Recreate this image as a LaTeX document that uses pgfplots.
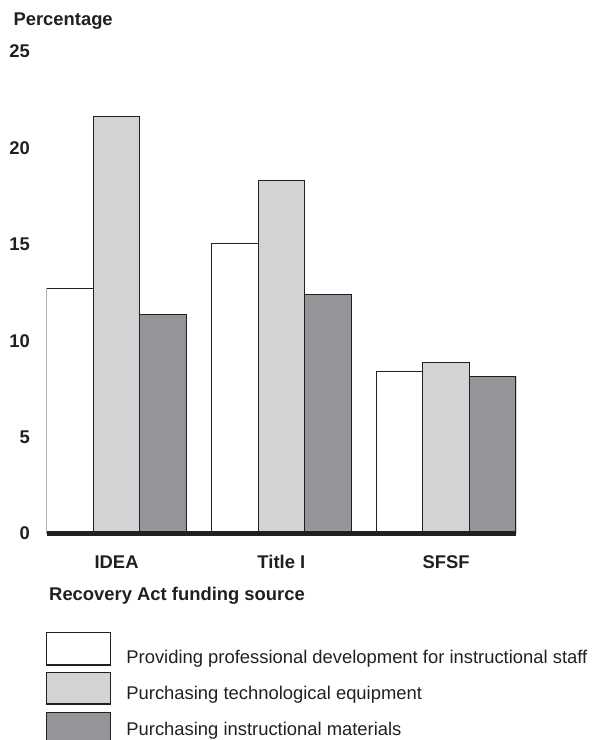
\documentclass[border=0pt]{standalone}
\usepackage{fontspec}
\setmainfont{Liberation Sans}
\usepackage{pgfplots}
\pgfplotsset{compat=1.18}

\definecolor{barlight}{HTML}{D1D3D4}
\definecolor{bardark}{HTML}{939598}
\definecolor{ink}{HTML}{231F20}

% legend box: #1 = bottom offset from text baseline, #2 = top offset
\pgfplotsset{
  box legend/.style 2 args={
    legend image code/.code={
      \path[draw=none, fill=none] (0pt,-12pt) rectangle (64pt,24pt);
      \draw[##1, overlay] (0pt,#1) rectangle (64pt,#2);
    },
  },
}

\begin{document}
\begin{tikzpicture}
  \path[use as bounding box] (0,0) rectangle (593pt,740pt);
  \begin{axis}[
      at={(46.7pt,206.5pt)}, anchor=south west,
      scale only axis, width=469.3pt, height=482pt,
      ybar, bar width=0.2827,
      xmin=-0.424, xmax=2.424,
      ymin=0, ymax=25,
      xtick={0,1,2},
      xticklabels={IDEA, Title I, SFSF},
      ytick={0,5,10,15,20,25},
      axis on top,
      axis lines*=left,
      y axis line style={draw=none},
      x axis line style={line width=4.3pt, color=ink},
      major tick length=0pt,
      /pgf/number format/assume math mode=true,
      tick label style={font=\bfseries\fontsize{18.4}{22}\selectfont, text=ink, inner sep=0pt},
      yticklabel style={anchor=east, xshift=-16.7pt},
      xticklabel style={anchor=base, yshift=-34.8pt},
      every axis y label/.style={at={(rel axis cs:0,1)}, anchor=base west,
        xshift=-36.7pt, yshift=25.5pt},
      every axis x label/.style={at={(rel axis cs:0,0)}, anchor=base west,
        xshift=-1pt, yshift=-67pt},
      label style={font=\bfseries\fontsize{18.4}{22}\selectfont, text=ink},
      ylabel={Percentage},
      xlabel={Recovery Act funding source},
      legend style={at={(0,0)}, anchor=north west, yshift=-105.5pt,
        draw=none, fill=none, inner sep=0pt, outer sep=0pt,
        row sep=0pt, column sep=15.7pt,
        nodes={inner sep=0pt, anchor=base west},
        font=\fontsize{18.4}{22}\selectfont, text=ink},
      legend cell align=left,
    ]
    \addplot[fill=white, draw=ink, line width=1.1pt, bar shift=-0.2827,
             box legend={-2pt}{30.3pt}]
      coordinates {(0,12.7) (1,15.05) (2,8.39)};
    \addplot[fill=barlight, draw=ink, line width=1.1pt, bar shift=0,
             box legend={-5pt}{26.3pt}]
      coordinates {(0,21.62) (1,18.3) (2,8.86)};
    \addplot[fill=bardark, draw=ink, line width=1.1pt, bar shift=0.2827,
             box legend={-9.6pt}{22.7pt}]
      coordinates {(0,11.37) (1,12.41) (2,8.15)};
    \legend{Providing professional development for instructional staff,
            Purchasing technological equipment,
            Purchasing instructional materials}
  \end{axis}
\end{tikzpicture}
\end{document}
